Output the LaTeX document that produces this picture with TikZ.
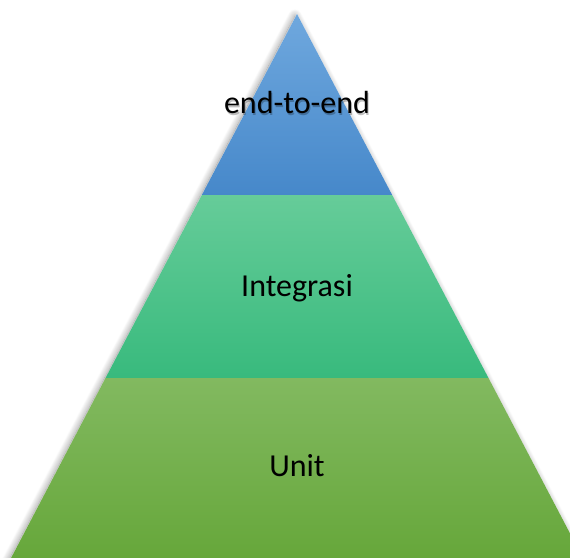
\documentclass[tikz,border=0pt]{standalone}
\usepackage{fontspec}
\setmainfont{Carlito}
\usetikzlibrary{shadows.blur}
\definecolor{blueTop}{HTML}{6FA8DE}
\definecolor{blueBot}{HTML}{4688CA}
\definecolor{greenTop}{HTML}{66CC99}
\definecolor{greenBot}{HTML}{38BA7D}
\definecolor{limeTop}{HTML}{82B960}
\definecolor{limeBot}{HTML}{66A73A}
\tikzset{
  lbl/.style={font=\fontsize{32}{36}\selectfont, text=black, inner sep=0pt},
  lblshadow/.style={font=\fontsize{32}{36}\selectfont, text=black, opacity=0.25, inner sep=0pt}
}
\begin{document}
\begin{tikzpicture}[x=1pt,y=-1pt]
\useasboundingbox (0,0) rectangle (570,557);
\clip (0,0) rectangle (570,557);
\coordinate (apex) at (297,14);
\coordinate (l1) at (201.8,195);
\coordinate (r1) at (392.2,195);
\coordinate (l2) at (105.5,378);
\coordinate (r2) at (488.5,378);
\coordinate (l3) at (10,560);
\coordinate (r3) at (584,560);
% shadow
\fill[white, blur shadow={shadow xshift=-2pt, shadow yshift=-2pt, shadow blur steps=12, shadow blur radius=7pt, shadow opacity=45}] (apex) -- (r3) -- (l3) -- cycle;
% bands
\shade[top color=blueTop, bottom color=blueBot] (apex) -- (r1) -- (l1) -- cycle;
\shade[top color=greenTop, bottom color=greenBot] (l1) -- (r1) -- (r2) -- (l2) -- cycle;
\shade[top color=limeTop, bottom color=limeBot] (l2) -- (r2) -- (r3) -- (l3) -- cycle;
% labels
\node[lblshadow] (topsh) at (298,105) {end-to-end};
\node[lbl] (top) at (297,103) {end-to-end};
\node[lbl] (mid) at (297,288) {Integrasi};
\node[lbl] (bot) at (297,466) {Unit};
\end{tikzpicture}
\end{document}
